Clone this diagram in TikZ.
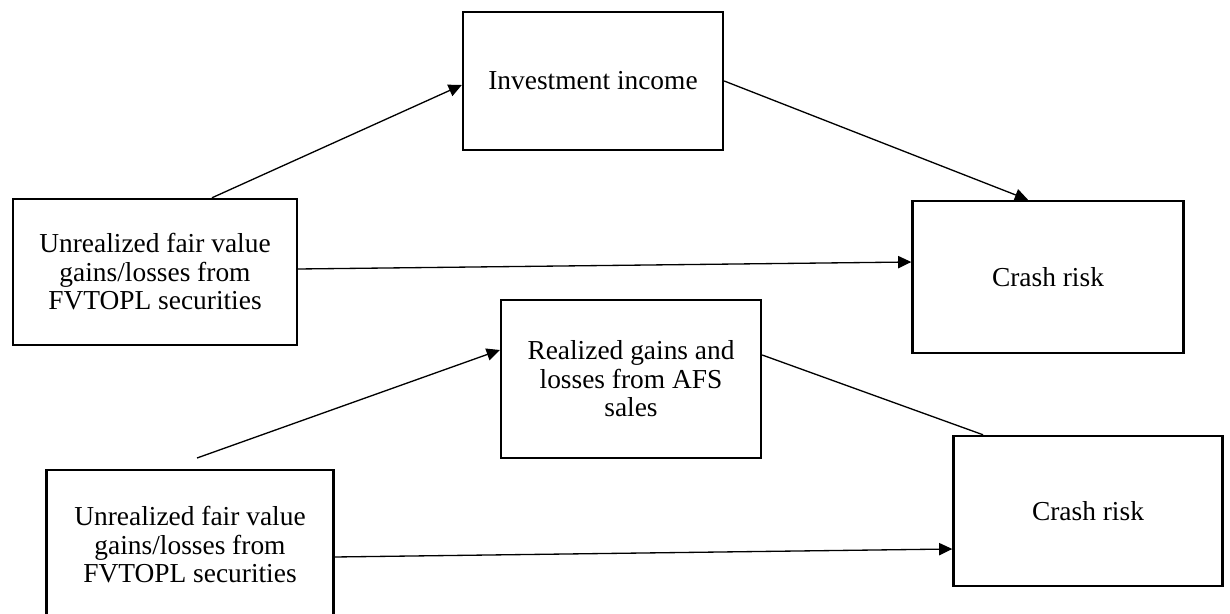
\documentclass[tikz,border=0pt]{standalone}
\usepackage{fontspec}
\setmainfont{Liberation Serif}
\usepackage{tikz}
\usetikzlibrary{arrows.meta}

\begin{document}
\begin{tikzpicture}[x=0.02cm, y=-0.02cm,
    box/.style={draw, line width=1.4pt, align=center, inner sep=0pt,
        font=\fontsize{15.6}{16.2}\selectfont},
    link/.style={line width=0.75pt},
    arrowlink/.style={link, -{Triangle[length=7.5pt, width=7pt]}}]
    \useasboundingbox (0,0) rectangle (1230,614);
    \clip (0,0) rectangle (1230,614);

    % Upper model
    \node[box, minimum width=5.2cm, minimum height=2.76cm] (income) at (593,81) {Investment income};
    \node[box, minimum width=5.68cm, minimum height=2.92cm] (fvtopl1) at (155,272)
        {Unrealized fair value\\gains/losses from\\FVTOPL securities};
    \node[box, minimum width=5.42cm, minimum height=3.04cm] (crash1) at (1048,277) {Crash risk};

    % Lower model
    \node[box, minimum width=5.2cm, minimum height=3.16cm] (realized) at (631,379)
        {Realized gains and\\losses from AFS\\sales};
    \node[box, minimum width=5.74cm, minimum height=3.0cm] (fvtopl2) at (190,545)
        {Unrealized fair value\\gains/losses from\\FVTOPL securities};
    \node[box, minimum width=5.38cm, minimum height=3.0cm] (crash2) at (1088,511) {Crash risk};
    \coordinate (start2) at (197,458);

    % Paths, upper
    \draw[arrowlink] ([xshift=1.14cm]fvtopl1.north) -- ([yshift=-0.08cm]income.west);
    \draw[arrowlink] (income.east) -- ([xshift=-0.4cm]crash1.north);
    \draw[arrowlink] ([yshift=0.06cm]fvtopl1.east) -- ([yshift=0.3cm]crash1.west);

    % Paths, lower
    \draw[arrowlink] (start2) -- ([yshift=0.58cm]realized.west);
    \draw[link] ([yshift=0.48cm]realized.east) -- ([xshift=-2.1cm]crash2.north);
    \draw[arrowlink] ([yshift=-0.24cm]fvtopl2.east) -- ([yshift=-0.76cm]crash2.west);
\end{tikzpicture}
\end{document}
